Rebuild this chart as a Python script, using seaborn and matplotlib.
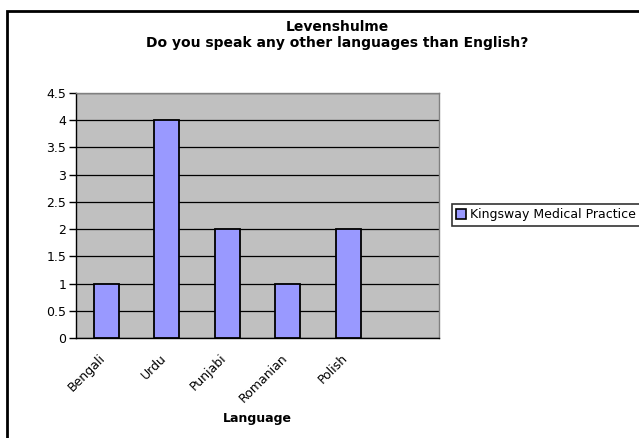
import matplotlib
matplotlib.use("Agg")
import matplotlib.pyplot as plt
import matplotlib.patches as mpatches
import matplotlib.transforms as mtransforms
import seaborn as sns
import pandas as pd
import numpy as np

categories = ["Bengali", "Urdu", "Punjabi", "Romanian", "Polish"]
values = [1, 4, 2, 1, 2]
series_name = "Kingsway Medical Practice"
yticks = [0, 0.5, 1, 1.5, 2, 2.5, 3, 3.5, 4, 4.5]
ytick_labels = ["0", "0.5", "1", "1.5", "2", "2.5", "3", "3.5", "4", "4.5"]

df = pd.DataFrame({"Language": categories, "Count": values})

sns.set_style("white")
plt.rcParams["font.family"] = ["DejaVu Sans"]
plt.rcParams["text.color"] = "black"
plt.rcParams["axes.labelcolor"] = "black"
plt.rcParams["xtick.color"] = "black"
plt.rcParams["ytick.color"] = "black"

W, H = 639, 438
fig = plt.figure(figsize=(W / 100, H / 100), dpi=100)
ax = fig.add_axes([76 / W, 1 - 338 / H, (439 - 76) / W, (338 - 93) / H])

sns.barplot(data=df, x="Language", y="Count", order=categories, color="#9999FF",
            width=0.41, edgecolor="black", linewidth=1.3, saturation=1, ax=ax, zorder=3)

ax.set_facecolor("#C0C0C0")
ax.set_xlim(-0.5, 5.5)
ax.set_ylim(0, 4.5)
ax.set_yticks(yticks)
ax.set_yticklabels(ytick_labels, fontsize=9)
ax.yaxis.grid(True, color="black", linewidth=0.9, zorder=0)
ax.set_axisbelow(True)
for s in ["top", "right"]:
    ax.spines[s].set_color("#808080")
    ax.spines[s].set_linewidth(1)
for s in ["left", "bottom"]:
    ax.spines[s].set_color("black")
    ax.spines[s].set_linewidth(1)

ax.set_xticks(range(len(categories)))
ax.set_xticklabels(categories, rotation=45, ha="right", rotation_mode="anchor", fontsize=9)
ax.tick_params(axis="x", which="major", length=0, pad=10)
offset = mtransforms.ScaledTranslation(-7 / 100, 0, fig.dpi_scale_trans)
for lbl in ax.get_xticklabels():
    lbl.set_transform(lbl.get_transform() + offset)
ax.set_xticks(np.arange(-0.5, 6.0, 1.0), minor=True)
ax.tick_params(axis="x", which="minor", length=5, direction="out", width=1, color="black")
ax.tick_params(axis="y", which="major", length=5, direction="out", width=1, color="black", left=True, pad=2)

ax.set_xlabel("Language", fontsize=9, fontweight="bold", labelpad=5)
ax.set_ylabel("")

fig.text(337 / W, 1 - 27 / H, "Levenshulme", ha="center", va="center",
         fontsize=10, fontweight="bold", color="black")
fig.text(337 / W, 1 - 43 / H, "Do you speak any other languages than English?", ha="center",
         va="center", fontsize=10, fontweight="bold", color="black")

handle = mpatches.Patch(facecolor="#9999FF", edgecolor="black", linewidth=1.2, label=series_name)
leg = fig.legend(handles=[handle], loc="upper left", bbox_to_anchor=(452 / W, 1 - 204 / H),
                 fontsize=9, frameon=True, fancybox=False, edgecolor="black",
                 handlelength=0.8, handleheight=0.8, handletextpad=0.3, borderpad=0.35,
                 borderaxespad=0)
leg.get_frame().set_linewidth(1.2)

frame = mpatches.Rectangle((7 / W, -0.1), 2, 1 - 11 / H + 0.1, transform=fig.transFigure,
                           fill=False, edgecolor="black", linewidth=2, clip_on=False)
fig.patches.append(frame)

fig.savefig("out.png", dpi=100)
